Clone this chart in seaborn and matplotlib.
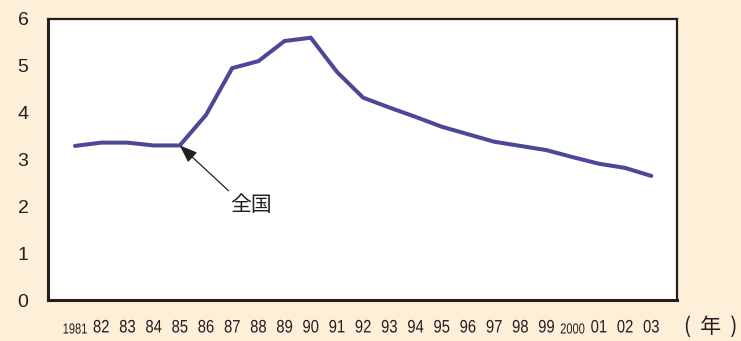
import numpy as np
import pandas as pd
import matplotlib
matplotlib.use("Agg")
import matplotlib.pyplot as plt
import seaborn as sns
from matplotlib.patheffects import AbstractPathEffect
from matplotlib.transforms import Affine2D
from matplotlib.path import Path

# Data
year_labels = ["1981", "82", "83", "84", "85", "86", "87", "88", "89", "90",
               "91", "92", "93", "94", "95", "96", "97", "98", "99", "2000",
               "01", "02", "03"]
national = [3.29, 3.36, 3.36, 3.30, 3.30, 3.95, 4.95, 5.10, 5.53, 5.60,
            4.87, 4.32, 4.11, 3.91, 3.70, 3.54, 3.38, 3.29, 3.20, 3.05,
            2.91, 2.82, 2.65]
y_ticks = [0, 1, 2, 3, 4, 5, 6]
series_label = "全国"
unit_label = "(  年  )"

BG = "#FDEFD8"
LINE = "#4B4898"
INK = "#231f20"


class Condense(AbstractPathEffect):
    """Squeeze glyphs horizontally about their own centre, optionally
    nudging them down (in points) so baselines line up."""

    def __init__(self, sx, drop=0.0):
        super().__init__()
        self.sx = sx
        self.drop = drop

    def draw_path(self, renderer, gc, tpath, affine, rgbFace=None):
        v = tpath.vertices
        codes = tpath.codes
        if codes is not None:
            v = v[codes != Path.CLOSEPOLY]
        cx = (v[:, 0].min() + v[:, 0].max()) / 2 if len(v) else 0
        dy = renderer.points_to_pixels(self.drop)
        t = (Affine2D().translate(-cx, 0).scale(self.sx, 1).translate(cx, 0)
             + affine + Affine2D().translate(0, -dy))
        renderer.draw_path(gc, tpath, t, rgbFace)


sns.set_theme(style="white")
plt.rcParams["font.family"] = ["Liberation Sans", "Noto Sans CJK JP", "DejaVu Sans"]
CJK = ["Noto Sans CJK JP", "DejaVu Sans"]

df = pd.DataFrame({"idx": np.arange(len(year_labels)), "value": national})

fig = plt.figure(figsize=(7.41, 3.41), dpi=100, facecolor=BG)
ax = fig.add_axes([0.0648, 0.1202, 0.8488, 0.8241])
ax.set_facecolor("white")

sns.lineplot(data=df, x="idx", y="value", ax=ax, color=LINE, linewidth=2.9,
             solid_joinstyle="miter")

ax.set_xlim(-1.03, 22.98)
ax.set_ylim(0, 6)
ax.set_yticks(y_ticks)
ax.set_yticklabels([str(t) for t in y_ticks], fontsize=14, color=INK)
ax.set_xticks(df["idx"])
ax.set_xticklabels(year_labels, fontsize=13, color=INK)
# condensed year labels; the four-digit ones are squeezed further
for lab in ax.get_xticklabels():
    if len(lab.get_text()) == 4:
        lab.set_fontsize(10.5)
        lab.set_path_effects([Condense(0.76, drop=2.2)])
    else:
        lab.set_path_effects([Condense(0.82)])

ax.tick_params(axis="x", direction="in", length=4, width=1.4, color=INK, pad=14)
ax.tick_params(axis="y", direction="in", length=4, width=1.4, color=INK, pad=14)
ax.set_xlabel("")
ax.set_ylabel("")
for s in ax.spines.values():
    s.set_visible(True)
    s.set_color(INK)
    s.set_linewidth(1.6)
ax.spines["left"].set_linewidth(2.2)
ax.spines["bottom"].set_linewidth(2.2)

# Annotation pointing at the 1985 value
H = 341
ax.annotate(series_label, xy=(4, national[4]), xytext=(230, H - 205),
            textcoords="figure pixels", fontsize=15, color=INK,
            ha="left", va="center", family=CJK,
            arrowprops=dict(arrowstyle="-|>,head_length=0.45,head_width=0.17",
                            color=INK, lw=0.9, mutation_scale=24,
                            shrinkA=0, shrinkB=0, relpos=(0.05, 1.0)))

fig.text(684.5 / 741, 1 - 327 / H, unit_label, fontsize=15, color=INK,
         ha="left", va="center", family=CJK)

fig.savefig("out.png", dpi=100, facecolor=BG)
